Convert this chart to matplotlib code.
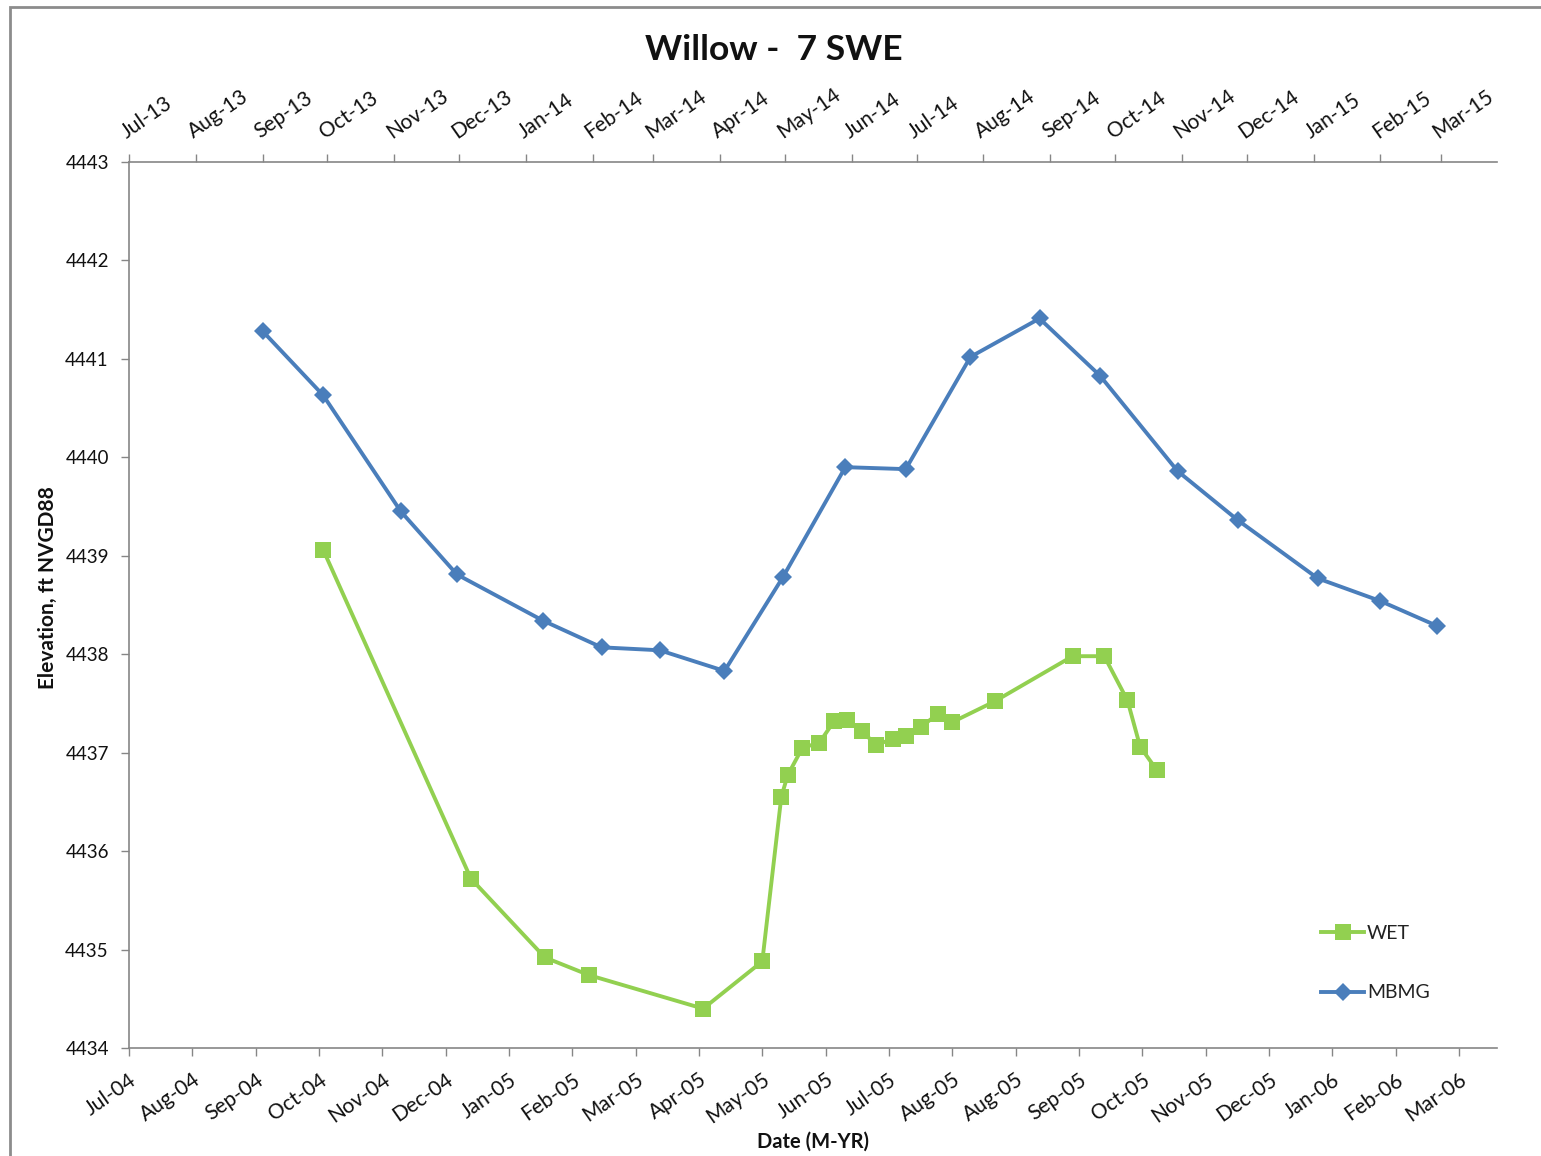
import matplotlib
matplotlib.use('Agg')
import matplotlib.pyplot as plt
import matplotlib.dates as mdates
import numpy as np
import pandas as pd
from matplotlib.patches import Rectangle

plt.rcParams['font.family'] = ['Lato', 'DejaVu Sans']

# WET readings, plotted against the 2004-06 date axis (bottom)
wet_dates = ['2004-10-01', '2004-12-10', '2005-01-14', '2005-02-04', '2005-03-30',
             '2005-04-27', '2005-05-06', '2005-05-09', '2005-05-16', '2005-05-24',
             '2005-05-31', '2005-06-06', '2005-06-13', '2005-06-20', '2005-06-28',
             '2005-07-04', '2005-07-11', '2005-07-19', '2005-07-26', '2005-08-15',
             '2005-09-21', '2005-10-06', '2005-10-17', '2005-10-23', '2005-10-31']
wet_elev = [4439.06, 4435.72, 4434.92, 4434.74, 4434.40,
            4434.88, 4436.55, 4436.77, 4437.05, 4437.10,
            4437.32, 4437.33, 4437.22, 4437.08, 4437.14,
            4437.17, 4437.26, 4437.39, 4437.31, 4437.52,
            4437.98, 4437.98, 4437.53, 4437.06, 4436.82]

# MBMG readings, plotted against the 2013-15 date axis (top)
mbmg_dates = ['2013-09-01', '2013-09-29', '2013-11-04', '2013-11-30', '2014-01-09',
              '2014-02-05', '2014-03-04', '2014-04-03', '2014-04-30', '2014-05-29',
              '2014-06-26', '2014-07-26', '2014-08-27', '2014-09-24', '2014-10-30',
              '2014-11-27', '2015-01-03', '2015-02-01', '2015-02-27']
mbmg_elev = [4441.28, 4440.63, 4439.45, 4438.81, 4438.34,
             4438.07, 4438.04, 4437.83, 4438.78, 4439.90,
             4439.88, 4441.02, 4441.41, 4440.83, 4439.86,
             4439.36, 4438.77, 4438.54, 4438.29]

bottom_labels = ['Jul-04', 'Aug-04', 'Sep-04', 'Oct-04', 'Nov-04', 'Dec-04', 'Jan-05',
                 'Feb-05', 'Mar-05', 'Apr-05', 'May-05', 'Jun-05', 'Jul-05', 'Aug-05',
                 'Aug-05', 'Sep-05', 'Oct-05', 'Nov-05', 'Dec-05', 'Jan-06', 'Feb-06',
                 'Mar-06']
top_labels = ['Jul-13', 'Aug-13', 'Sep-13', 'Oct-13', 'Nov-13', 'Dec-13', 'Jan-14',
              'Feb-14', 'Mar-14', 'Apr-14', 'May-14', 'Jun-14', 'Jul-14', 'Aug-14',
              'Sep-14', 'Oct-14', 'Nov-14', 'Dec-14', 'Jan-15', 'Feb-15', 'Mar-15']

GREEN = '#92D050'
BLUE = '#4A7EBB'
AXIS = '#868686'
TXT = '#111111'

fig = plt.figure(figsize=(15.41, 11.56), dpi=100)
ax = fig.add_axes([0.0837, 0.0934, 0.8877, 0.7665])
ax_top = ax.twiny()

# bottom axis: 30-day major unit
b0 = mdates.date2num(pd.Timestamp('2004-07-01'))
ax.set_xlim(b0, b0 + 648)
ax.set_xticks(b0 + np.arange(len(bottom_labels)) * 30)
ax.set_xticklabels(bottom_labels)

# top axis: monthly
t0 = pd.Timestamp('2013-07-01')
ax_top.set_xlim(mdates.date2num(t0), mdates.date2num(t0) + 634)
ax_top.set_xticks(mdates.date2num(pd.date_range(t0, periods=len(top_labels), freq='MS')))
ax_top.set_xticklabels(top_labels)

ax.set_ylim(4434, 4443)
ax.set_yticks(np.arange(4434, 4444, 1))

ax.plot(mdates.date2num(pd.to_datetime(wet_dates)), wet_elev, color=GREEN, lw=2.8,
        marker='s', markersize=12, markeredgewidth=0, label='WET', zorder=3)
ax_top.plot(mdates.date2num(pd.to_datetime(mbmg_dates)), mbmg_elev, color=BLUE, lw=2.8,
            marker='D', markersize=9, markeredgewidth=0, label='MBMG', zorder=3)

for a in (ax, ax_top):
    a.set_facecolor('none')
    for s in a.spines.values():
        s.set_visible(False)
ax.spines['left'].set_visible(True)
ax.spines['bottom'].set_visible(True)
ax_top.spines['top'].set_visible(True)
for s in (ax.spines['left'], ax.spines['bottom'], ax_top.spines['top']):
    s.set_color(AXIS)
    s.set_linewidth(1.2)

ax.tick_params(axis='y', direction='out', length=5.5, width=1, color=AXIS,
               labelsize=13.5, labelcolor=TXT, pad=9)
ax.tick_params(axis='x', direction='out', length=5.5, width=1, color=AXIS,
               labelsize=15, labelcolor=TXT, pad=10)
ax_top.tick_params(axis='x', direction='out', length=5.5, width=1, color=AXIS,
                   labelsize=15, labelcolor=TXT, pad=9)

for lbl in ax.get_xticklabels():
    lbl.set_rotation(35)
    lbl.set_ha('right')
    lbl.set_va('top')
    lbl.set_rotation_mode('anchor')
for lbl in ax_top.get_xticklabels():
    lbl.set_rotation(35)
    lbl.set_ha('left')
    lbl.set_va('bottom')
    lbl.set_rotation_mode('anchor')

ax.set_xlabel('Date (M-YR)', fontsize=14.5, fontweight='bold', color=TXT)
ax.xaxis.set_label_coords(0.5, -0.094)
ax.set_ylabel('Elevation, ft NVGD88', fontsize=15, fontweight='bold', color=TXT)
ax.yaxis.set_label_coords(-0.052, 0.52)
fig.text(0.502, 0.957, 'Willow -  7 SWE', ha='center', va='center',
         fontsize=25.5, fontweight='bold', color=TXT)

h1, l1 = ax.get_legend_handles_labels()
h2, l2 = ax_top.get_legend_handles_labels()
fig.legend(h1 + h2, l1 + l2, loc='center left', bbox_to_anchor=(0.846, 0.167),
           frameon=False, fontsize=14, labelspacing=2.2, handlelength=2.2,
           handletextpad=0.15, labelcolor='#222222')

# chart area border
fig.add_artist(Rectangle((0.0065, -0.02), 1.1, 1.014, transform=fig.transFigure,
                         fill=False, edgecolor='#8c8c8c', lw=2))

fig.savefig('out.png', dpi=100)
